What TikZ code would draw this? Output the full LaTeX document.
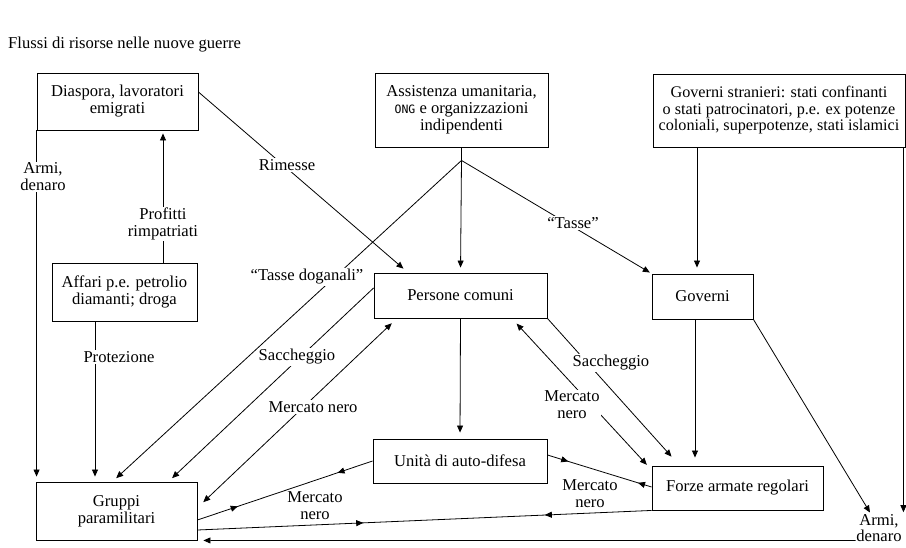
\documentclass[tikz,border=0pt]{standalone}
\usepackage{fontspec}
\setmainfont{Liberation Serif}
\newfontfamily\ongfont{DejaVu Sans Mono}
\usetikzlibrary{arrows.meta,decorations.markings,calc}
\pgfdeclarelayer{bg}
\pgfsetlayers{bg,main}
\begin{document}
\begin{tikzpicture}[x=1pt,y=-1pt,
  every node/.style={font=\fontsize{16.6}{17}\selectfont},
  box/.style={draw, line width=0.9pt, fill=white, align=center, inner sep=0pt},
  lab/.style={fill=white, inner sep=1pt, align=center},
  conn/.style={line width=0.8pt},
  tip/.style={-{Triangle[length=7pt,width=6pt]}},
  both/.style={{Triangle[length=7pt,width=6pt]}-{Triangle[length=7pt,width=6pt]}},
  midarrows/.style 2 args={postaction={decorate}, decoration={markings,
     mark=at position #1 with {\arrow{Triangle[length=7pt,width=6pt]}},
     mark=at position #2 with {\arrowreversed{Triangle[length=7pt,width=6pt]}}}},
]
\useasboundingbox (0,0) rectangle (906,548);

% boxes
\node[box, minimum width=161pt, minimum height=57pt] (dia) at (117.5,101.5) {Diaspora, lavoratori\\emigrati};
\node[box, minimum width=173pt, minimum height=74pt] (ass) at (461.5,110) {Assistenza umanitaria,\\{\ongfont\fontsize{11.5}{11.5}\selectfont ONG} e organizzazioni\\indipendenti};
\node[box, minimum width=252pt, minimum height=73pt, font=\fontsize{16.2}{16.5}\selectfont] (gst) at (779,110.5) {Governi stranieri: stati confinanti\\o stati patrocinatori, p.e. ex potenze\\coloniali, superpotenze, stati islamici};
\node[box, minimum width=145pt, minimum height=58pt] (aff) at (124.5,292) {Affari p.e. petrolio\\diamanti; droga};
\node[box, minimum width=173pt, minimum height=45pt] (per) at (460.5,295.5) {Persone comuni};
\node[box, minimum width=101pt, minimum height=45pt] (gov) at (702.5,296.5) {Governi};
\node[box, minimum width=174pt, minimum height=44pt] (uni) at (460,461) {Unità di auto-difesa};
\node[box, minimum width=171pt, minimum height=44pt] (for) at (737.5,488) {Forze armate regolari};
\node[box, minimum width=161pt, minimum height=58pt] (gru) at (116.5,511) {Gruppi\\paramilitari};

% labels
\node[anchor=west, inner sep=0pt] (title) at (8,45) {Flussi di risorse nelle nuove guerre};
\node[lab] (armiL) at (43,177) {Armi,\\denaro};
\node[lab] (prof) at (163,224) {Profitti\\rimpatriati};
\node[lab] (prot) at (119,357) {Protezione};
\node[lab] (rim) at (287,165) {Rimesse};
\node[lab] (tdog) at (307,277) {“Tasse doganali”};
\node[lab] (tas) at (573,223) {“Tasse”};
\node[lab] (sacL) at (297,357) {Saccheggio};
\node[lab] (mnL) at (313,407) {Mercato nero};
\node[lab] (sacR) at (611,363) {Saccheggio};
\node[lab] (mnR) at (572,405) {Mercato\\nero};
\node[lab] (mnF) at (590,494) {Mercato\\nero};
\node[lab] (mnG) at (315,506) {Mercato\\nero};
\node[lab, inner sep=0.5pt, font=\fontsize{16.6}{16}\selectfont] (armiR) at (879,528.5) {Armi,\\denaro};

\begin{pgfonlayer}{bg}
\fill[white] (0,0) rectangle (906,548);
\draw[conn, tip, shorten >=5pt] (dia.south west) -- (dia.south west |- gru.north);
\draw[conn, tip, shorten >=3pt] (aff.north -| prof) -- (dia.south -| prof);
\coordinate (p1) at ([xshift=-29.5pt]aff.south);
\draw[conn, tip, shorten >=5pt] (p1) -- (p1 |- gru.north);
\draw[conn, tip, shorten >=6pt] ([yshift=9.5pt]dia.east) -- ([xshift=-52.5pt]per.north);
\coordinate (ap) at ([yshift=-13pt]ass.south);
\draw[conn] (ass.south) -- (ap);
\draw[conn, tip, shorten >=5pt] (ap) -- (per.north);
\draw[conn, tip, shorten >=5pt] (ap) -- ([xshift=-4pt]gru.north);
\draw[conn, tip, shorten >=2pt] (ap) -- (gov.north west);
\coordinate (g1) at ([xshift=-5.5pt]gov.north);
\draw[conn, tip, shorten >=6pt] (g1 |- gst.south) -- (g1);
\coordinate (r1) at ([xshift=-2pt]gst.south east);
\draw[conn, tip, shorten >=2pt] (r1) -- (r1 |- armiR.north);
\draw[conn, tip, shorten >=2pt] (gov.south east) -- ([xshift=-8pt]armiR.north);
\draw[conn, tip, shorten >=6pt] ([yshift=-12pt]armiR.west) -- (gru.south east);
\draw[conn, tip, shorten >=6pt] (per.south) -- (uni.north);
\draw[conn, tip, shorten >=5pt] ([yshift=7.5pt]per.west) -- ([xshift=-29pt]gru.north east);
\draw[conn, both, shorten <=8pt, shorten >=7pt] ([yshift=3.3pt]gru.east) -- ([xshift=23.3pt]per.south west);
\draw[conn, tip, shorten >=12pt] (per.south east) -- ([xshift=28pt]for.north west);
\draw[conn, both, shorten <=7pt, shorten >=7pt] ([xshift=-35.6pt]per.south east) -- ([yshift=-4.4pt]for.north west);
\coordinate (g2) at ([xshift=-7.5pt]gov.south);
\draw[conn, tip, shorten >=8pt] (g2) -- (g2 |- for.north);
\draw[conn, midarrows={0.2}{0.87}] ([yshift=6pt]uni.east) -- ([yshift=1pt]for.west);
\draw[conn, midarrows={0.2}{0.77}] (uni.west) -- ([yshift=-9pt]gru.east);
\draw[conn, midarrows={0.235}{0.635}] (for.south west) -- ([yshift=-19pt]gru.east);
\end{pgfonlayer}
\end{tikzpicture}
\end{document}
